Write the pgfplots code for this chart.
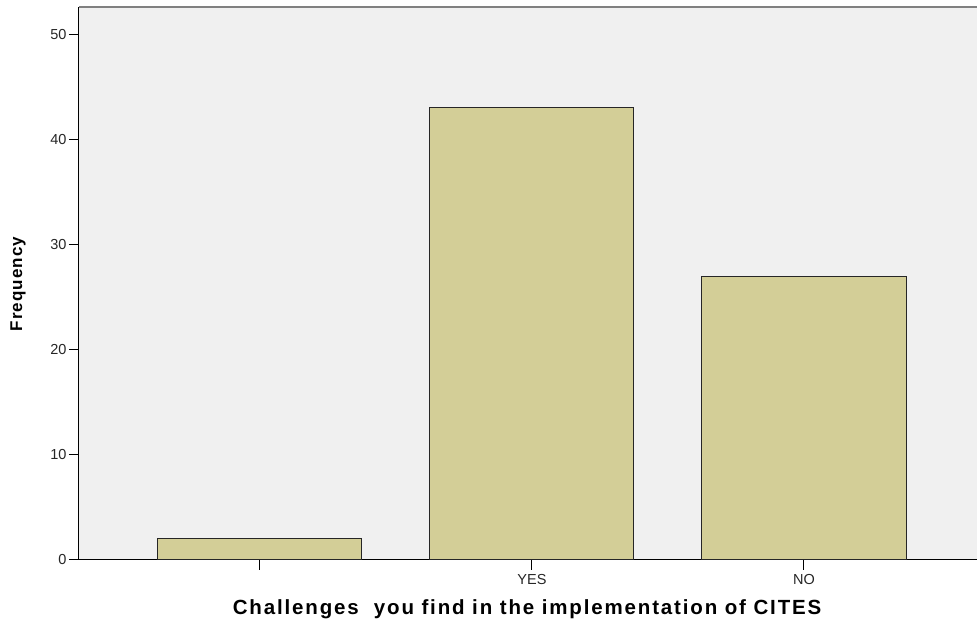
\documentclass[border=0pt]{standalone}
\usepackage{pgfplots}
\pgfplotsset{compat=1.18}
\usepackage{fontspec}
\setmainfont{Liberation Sans}
\definecolor{barfill}{RGB}{211,206,151}
\definecolor{plotbg}{RGB}{240,240,240}
\begin{document}
\begin{tikzpicture}
\begin{axis}[
  name=ax,
  width=898pt, height=553pt, scale only axis,
  xmin=-0.665, xmax=2.636,
  ymin=0, ymax=52.6,
  axis background/.style={fill=plotbg},
  axis x line*=bottom,
  axis y line*=left,
  axis line style={black, line width=1pt},
  xtick={0,1,2},
  xticklabels={,YES,NO},
  ytick={0,10,20,30,40,50},
  tick align=outside,
  tick pos=left,
  major tick length=10pt,
  tick style={black, line width=1pt},
  ticklabel style={font=\fontsize{14.5}{16}\selectfont, text=black!85},
  /pgf/number format/assume math mode=true,
  xticklabel style={yshift=-0.5pt},
  yticklabel style={xshift=1pt},
  ylabel={\textbf{Frequency}},
  ylabel style={font=\fontsize{17}{19}\selectfont\addfontfeature{LetterSpace=6},
    at={(axis description cs:0,0.5)}, anchor=center, yshift=61pt},
  xlabel={\textbf{Challenges\ \ you find in the implementation of CITES}},
  xlabel style={font=\fontsize{20.5}{23}\selectfont\addfontfeature{LetterSpace=9},
    at={(axis description cs:0.5,0)}, anchor=center, yshift=-49pt},
  clip=false,
]
\addplot[ybar, bar width=0.75, fill=barfill, draw=black!85, line width=1pt]
  coordinates {(0,2) (1,43) (2,27)};
\draw[gray, line width=1.5pt] (rel axis cs:0,1) -- (rel axis cs:1,1);
\end{axis}
\pgfresetboundingbox
\path[use as bounding box] ([xshift=-79pt,yshift=-65pt]ax.south west) rectangle ([yshift=7pt]ax.north east);
\end{tikzpicture}
\end{document}
